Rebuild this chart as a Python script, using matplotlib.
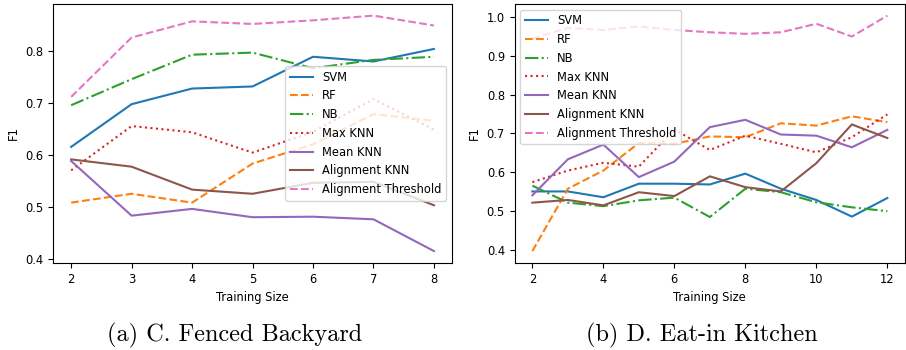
import matplotlib
matplotlib.use('Agg')
import matplotlib.pyplot as plt

# (a) C. Fenced Backyard
sizes_a = [2, 3, 4, 5, 6, 7, 8]
svm_a = [0.615, 0.697, 0.727, 0.731, 0.788, 0.779, 0.803]
rf_a = [0.508, 0.525, 0.508, 0.583, 0.620, 0.678, 0.665]
nb_a = [0.695, 0.745, 0.792, 0.796, 0.766, 0.782, 0.788]
maxknn_a = [0.570, 0.655, 0.643, 0.604, 0.644, 0.707, 0.648]
meanknn_a = [0.588, 0.483, 0.496, 0.480, 0.481, 0.476, 0.415]
alignknn_a = [0.591, 0.577, 0.533, 0.525, 0.546, 0.548, 0.503]
alignthr_a = [0.711, 0.825, 0.856, 0.851, 0.858, 0.867, 0.848]

# (b) D. Eat-in Kitchen
sizes_b = [2, 3, 4, 5, 6, 7, 8, 9, 10, 11, 12]
svm_b = [0.550, 0.550, 0.535, 0.570, 0.570, 0.568, 0.596, 0.557, 0.528, 0.485, 0.533]
rf_b = [0.396, 0.557, 0.604, 0.675, 0.673, 0.692, 0.690, 0.726, 0.720, 0.744, 0.729]
nb_b = [0.565, 0.521, 0.512, 0.527, 0.534, 0.484, 0.557, 0.548, 0.522, 0.509, 0.499]
maxknn_b = [0.574, 0.604, 0.624, 0.614, 0.710, 0.657, 0.694, 0.673, 0.651, 0.690, 0.749]
meanknn_b = [0.540, 0.633, 0.671, 0.587, 0.627, 0.716, 0.735, 0.697, 0.694, 0.664, 0.709]
alignknn_b = [0.521, 0.528, 0.514, 0.548, 0.538, 0.589, 0.561, 0.550, 0.623, 0.723, 0.688]
alignthr_b = [0.945, 0.972, 0.967, 0.976, 0.967, 0.961, 0.957, 0.961, 0.983, 0.950, 1.004]

names = ['SVM', 'RF', 'NB', 'Max KNN', 'Mean KNN', 'Alignment KNN', 'Alignment Threshold']
styles = ['-', '--', '-.', ':', '-', '-', '--']
colors = ['tab:blue', 'tab:orange', 'tab:green', 'tab:red', 'tab:purple', 'tab:brown', 'tab:pink']

fs = 8.3

fig = plt.figure(figsize=(9.06, 3.5), dpi=100)
ax1 = fig.add_axes([0.0585, 0.249, 0.4405, 0.74])
ax2 = fig.add_axes([0.568, 0.249, 0.431, 0.74])

panels = [
    (ax1, sizes_a, [svm_a, rf_a, nb_a, maxknn_a, meanknn_a, alignknn_a, alignthr_a], 'center right'),
    (ax2, sizes_b, [svm_b, rf_b, nb_b, maxknn_b, meanknn_b, alignknn_b, alignthr_b], 'upper left'),
]

for ax, xs, series, loc in panels:
    for ys, n, ls, c in zip(series, names, styles, colors):
        ax.plot(xs, ys, ls, color=c, label=n, lw=1.5)
    ax.set_xlabel('Training Size', fontsize=fs)
    ax.set_ylabel('F1', fontsize=fs)
    ax.tick_params(labelsize=fs)
    ax.legend(loc=loc, fontsize=fs)

fig.text(0.259, 0.025, '(a) C. Fenced Backyard', ha='center', fontsize=17.5, family='cmr10')
fig.text(0.775, 0.025, '(b) D. Eat-in Kitchen', ha='center', fontsize=17.5, family='cmr10')

fig.savefig('out.png', dpi=100)
